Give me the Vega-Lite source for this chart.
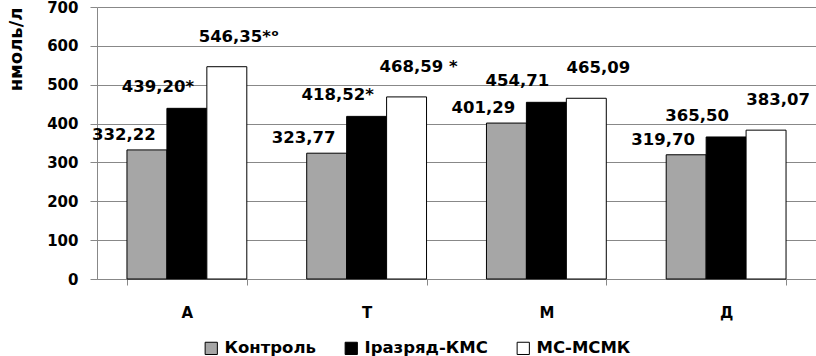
{
  "$schema": "https://vega.github.io/schema/vega-lite/v6.json",
  "width": 719,
  "height": 272,
  "autosize": {"type": "none"},
  "padding": {"left": 97, "top": 7, "right": 0, "bottom": 77},
  "background": "white",
  "data": {
    "values": [
      {"cat": "А", "series": "Контроль", "value": 332.22, "label": "332,22"},
      {"cat": "А", "series": "Іразряд-КМС", "value": 439.20, "label": "439,20*"},
      {"cat": "А", "series": "МС-МСМК", "value": 546.35, "label": "546,35*ᵒ"},
      {"cat": "Т", "series": "Контроль", "value": 323.77, "label": "323,77"},
      {"cat": "Т", "series": "Іразряд-КМС", "value": 418.52, "label": "418,52*"},
      {"cat": "Т", "series": "МС-МСМК", "value": 468.59, "label": "468,59 *"},
      {"cat": "М", "series": "Контроль", "value": 401.29, "label": "401,29"},
      {"cat": "М", "series": "Іразряд-КМС", "value": 454.71, "label": "454,71"},
      {"cat": "М", "series": "МС-МСМК", "value": 465.09, "label": "465,09"},
      {"cat": "Д", "series": "Контроль", "value": 319.70, "label": "319,70"},
      {"cat": "Д", "series": "Іразряд-КМС", "value": 365.50, "label": "365,50"},
      {"cat": "Д", "series": "МС-МСМК", "value": 383.07, "label": "383,07"}
    ]
  },
  "encoding": {
    "x": {
      "field": "cat", "type": "nominal", "sort": ["А", "Т", "М", "Д"],
      "scale": {"paddingInner": 0.3333, "paddingOuter": 0.1667},
      "axis": {
        "title": null, "labelAngle": 0, "tickBand": "extent",
        "labelFont": "DejaVu Sans", "labelFontWeight": "bold", "labelFontSize": 15, "labelColor": "black",
        "tickSize": 6, "tickColor": "#888888", "domainColor": "#888888", "labelPadding": 20
      }
    },
    "xOffset": {
      "field": "series", "type": "nominal", "sort": ["Контроль", "Іразряд-КМС", "МС-МСМК"],
      "scale": {"paddingInner": 0, "paddingOuter": 0}
    },
    "y": {
      "field": "value", "type": "quantitative",
      "scale": {"domain": [0, 700], "nice": false},
      "axis": {
        "title": "нмоль/л", "values": [0, 100, 200, 300, 400, 500, 600, 700],
        "labelFont": "DejaVu Sans", "labelFontWeight": "bold", "labelFontSize": 15, "labelColor": "black",
        "tickSize": 7, "tickColor": "#888888", "domainColor": "#888888", "gridColor": "#888888",
        "labelPadding": 12,
        "titleFont": "DejaVu Sans", "titleFontWeight": "bold", "titleFontSize": 18, "titleColor": "black",
        "titleAngle": -90, "titleX": -81, "titleY": 0, "titleAlign": "right", "titleBaseline": "middle"
      }
    }
  },
  "layer": [
    {
      "mark": {"type": "bar", "stroke": "black", "strokeWidth": 1},
      "encoding": {
        "color": {
          "field": "series", "type": "nominal", "sort": ["Контроль", "Іразряд-КМС", "МС-МСМК"],
          "scale": {"domain": ["Контроль", "Іразряд-КМС", "МС-МСМК"], "range": ["#a6a6a6", "#000000", "#ffffff"]},
          "legend": {
            "title": null, "orient": "none", "direction": "horizontal",
            "legendX": 106, "legendY": 333,
            "symbolType": "square", "symbolSize": 150, "symbolStrokeColor": "black", "symbolStrokeWidth": 1,
            "symbolOpacity": 1,
            "labelFont": "DejaVu Sans", "labelFontWeight": "bold", "labelFontSize": 16.5, "labelColor": "black",
            "labelOffset": 5, "columnPadding": 27
          }
        }
      }
    },
    {
      "transform": [{"filter": "datum.series === 'Контроль'"}],
      "mark": {"type": "text", "font": "DejaVu Sans", "fontWeight": "bold", "fontSize": 16.5, "color": "black", "baseline": "middle", "dx": -23, "dy": -15},
      "encoding": {"text": {"field": "label"}}
    },
    {
      "transform": [{"filter": "datum.series === 'Іразряд-КМС'"}],
      "mark": {"type": "text", "font": "DejaVu Sans", "fontWeight": "bold", "fontSize": 16.5, "color": "black", "baseline": "middle", "dx": -29, "dy": -21},
      "encoding": {"text": {"field": "label"}}
    },
    {
      "transform": [{"filter": "datum.series === 'МС-МСМК'"}],
      "mark": {"type": "text", "font": "DejaVu Sans", "fontWeight": "bold", "fontSize": 16.5, "color": "black", "baseline": "middle", "dx": 12, "dy": -30},
      "encoding": {"text": {"field": "label"}}
    }
  ],
  "config": {"view": {"stroke": null}}
}
